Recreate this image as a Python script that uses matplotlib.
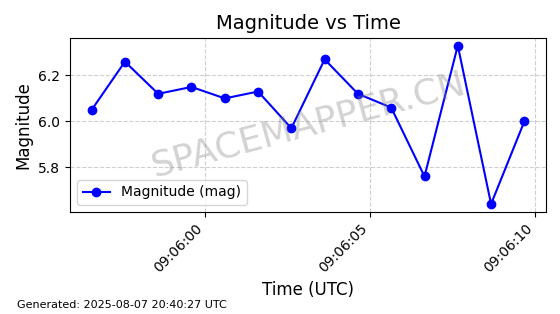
import numpy as np
import pandas as pd
import matplotlib
matplotlib.use("Agg")
import matplotlib.pyplot as plt
import matplotlib.dates as mdates

times = pd.date_range("2025-08-07 09:05:56.55", periods=14, freq="1010ms")
magnitudes = [6.05, 6.26, 6.12, 6.15, 6.10, 6.13, 5.97,
              6.27, 6.12, 6.06, 5.76, 6.33, 5.64, 6.00]
generated = "Generated: 2025-08-07 20:40:27 UTC"


def main():
    fig, ax = plt.subplots(figsize=(5.6, 3.14), dpi=100)
    ax.plot(times, magnitudes, "o-", color="blue", markersize=6,
            linewidth=1.5, label="Magnitude (mag)")

    ax.set_title("Magnitude vs Time", fontsize=14)
    ax.set_xlabel("Time (UTC)", fontsize=12)
    ax.set_ylabel("Magnitude", fontsize=12)
    ax.xaxis.set_major_locator(mdates.SecondLocator(bysecond=[0, 5, 10]))
    ax.xaxis.set_major_formatter(mdates.DateFormatter("%H:%M:%S"))
    plt.setp(ax.get_xticklabels(), rotation=45, ha="right")
    ax.grid(True, linestyle="--", alpha=0.6)
    ax.legend(loc="lower left")

    ax.text(0.5, 0.5, "SPACEMAPPER.CN", transform=ax.transAxes,
            fontsize=26, color="gray", alpha=0.35, rotation=15,
            ha="center", va="center")

    fig.text(0.03, 0.02, generated, fontsize=8)
    fig.subplots_adjust(left=0.125, right=0.975, top=0.88, bottom=0.325)
    fig.savefig("out.png", dpi=100)


if __name__ == "__main__":
    main()
